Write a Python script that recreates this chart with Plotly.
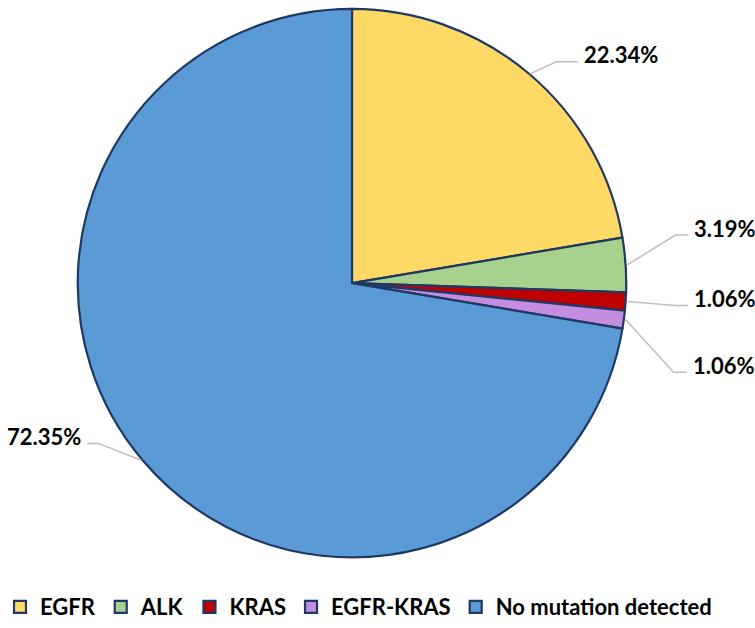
import math
import plotly.graph_objects as go

# ---- data ----
categories = ["EGFR", "ALK", "KRAS", "EGFR-KRAS", "No mutation detected"]
percent_values = [22.34, 3.19, 1.06, 1.06, 72.35]

# ---- styling ----
slice_colors = ["#FFD966", "#A9D18E", "#C00000", "#C48DE0", "#5B9BD5"]
outline_color = "#1F3864"
leader_color = "#BFBFBF"
# elbow offsets (px) of each leader line from its anchor on the rim
elbow_offsets = [(26, -12), (48, -30), (48, 4), (48, 53), (-43, -17)]
horiz_lengths = [22, 13, 13, 13, 11]
label_sides = ["right", "right", "right", "right", "left"]

W, H = 755, 628
cx, cy, R = 352, 285, 276  # pie centre / radius in pixels
FONT = "Lato"


def px2paper(x, y):
    return x / W, 1 - y / H


fig = go.Figure()
x0, y0 = px2paper(cx - R, cy + R)
x1, y1 = px2paper(cx + R, cy - R)
fig.add_trace(go.Pie(
    labels=categories,
    values=percent_values,
    sort=False,
    direction="clockwise",
    rotation=0,
    textinfo="none",
    hoverinfo="label+percent",
    marker=dict(colors=slice_colors, line=dict(color=outline_color, width=2.2)),
    domain=dict(x=[x0, x1], y=[y0, y1]),
))

total = sum(percent_values)
cum = 0.0
shapes = []
annotations = []
for v, (dx, dy), hl, side in zip(percent_values, elbow_offsets, horiz_lengths, label_sides):
    mid = (cum + v / 2) / total * 2 * math.pi
    cum += v
    ax = cx + R * math.sin(mid)
    ay = cy - R * math.cos(mid)
    ex, ey = ax + dx, ay + dy
    hx = ex + (hl if side == "right" else -hl)
    pts = [px2paper(ax, ay), px2paper(ex, ey), px2paper(hx, ey)]
    path = "M{},{} L{},{} L{},{}".format(pts[0][0], pts[0][1], pts[1][0], pts[1][1], pts[2][0], pts[2][1])
    shapes.append(dict(type="path", xref="paper", yref="paper", path=path,
                       line=dict(color=leader_color, width=1.5)))
    tx = hx + (4 if side == "right" else -4)
    tpx, tpy = px2paper(tx, ey - 7)
    annotations.append(dict(
        x=tpx, y=tpy, xref="paper", yref="paper", showarrow=False,
        xanchor="left" if side == "right" else "right", yanchor="middle",
        text="<b>{:.2f}%</b>".format(v),
        font=dict(family=FONT, size=22, color="black"),
    ))

lx, ly = px2paper(0, 611)
fig.update_layout(
    width=W, height=H,
    margin=dict(l=0, r=0, t=0, b=0),
    paper_bgcolor="white",
    plot_bgcolor="white",
    shapes=shapes,
    annotations=annotations,
    showlegend=True,
    legend=dict(
        orientation="h",
        x=lx, xanchor="left",
        y=ly, yanchor="middle",
        font=dict(family=FONT, size=22, color="black", weight="bold"),
        traceorder="normal",
    ),
)

fig.write_html(
    "out.html",
    config={"displayModeBar": False},
    post_script="document.body.style.margin='0';document.body.style.overflow='hidden';",
)
